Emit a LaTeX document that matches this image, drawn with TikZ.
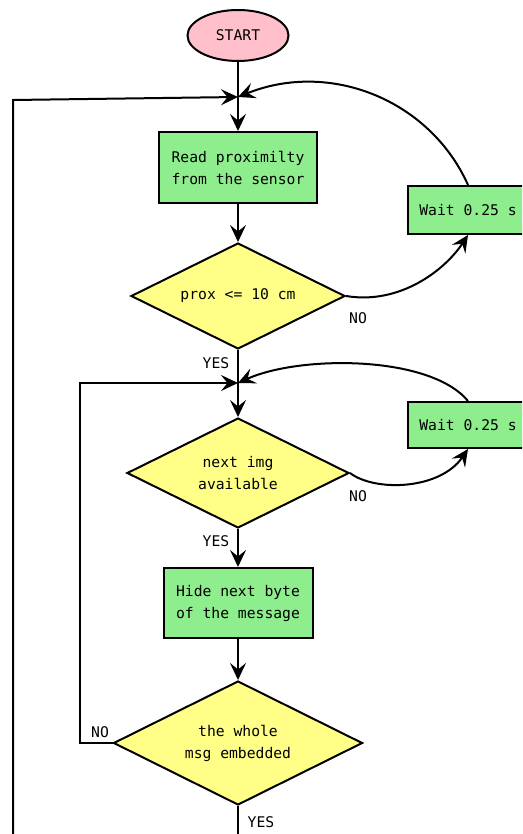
\documentclass[tikz,border=0pt]{standalone}
\usepackage{fontspec}
\newfontfamily\flowfont{DejaVu Sans Mono}
\usetikzlibrary{shapes.geometric,arrows.meta}
\definecolor{startpink}{HTML}{FFC0CB}
\definecolor{boxgreen}{HTML}{8EEE8E}
\definecolor{testyellow}{HTML}{FFFF88}
\tikzset{
  every node/.style={font=\flowfont\fontsize{14.7}{22}\selectfont},
  flowline/.style={line width=2pt},
  arr/.style={flowline, -{Stealth[length=17pt,width=16pt,inset=6.5pt]}},
  terminal/.style={ellipse, draw, line width=2pt, fill=startpink, inner sep=0pt, minimum width=101pt, minimum height=51pt},
  process/.style={rectangle, draw, line width=2pt, fill=boxgreen, inner sep=0pt, align=center},
  decision/.style={diamond, draw, line width=2pt, fill=testyellow, inner sep=0pt, aspect=2, align=center},
  lbl/.style={inner sep=0pt}
}
\begin{document}
\begin{tikzpicture}[x=1pt,y=-1pt]
\clip (0,0) rectangle (522,834);
\fill[white] (0,0) rectangle (522,834);

% main column
\node[terminal] (start) at (238,35.5) {START};
\coordinate (j1) at (238,97);
\node[process, minimum width=158pt, minimum height=71pt] (read) at (238,167.5) {Read proximilty\\from the sensor};
\node[decision, minimum width=214pt, minimum height=106pt] (d1) at (238,296) {prox <= 10 cm};
\coordinate (j2) at (238,383);
\node[decision, minimum width=222pt, minimum height=110pt] (d2) at (238,473) {next img\\available};
\node[process, minimum width=149pt, minimum height=70pt] (hide) at (238,603) {Hide next byte\\of the message};
\node[decision, minimum width=249pt, minimum height=124pt] (d3) at (238,743) {the whole\\msg embedded};
\coordinate (out) at (238,845);

% waiting boxes on the right
\node[process, minimum width=120pt, minimum height=48pt] (wait1) at (468,210) {Wait 0.25 s};
\node[process, minimum width=120pt, minimum height=46pt] (wait2) at (468,425) {Wait 0.25 s};

% loop-back corners
\coordinate (l1top) at (13,100);
\coordinate (l1bot) at (13,845);
\coordinate (l2top) at (80,383);
\coordinate (l2bot) at (80,743);

% straight flow
\draw[flowline] (start) -- (j1);
\draw[arr] (j1) -- (read);
\draw[arr] (read) -- (d1);
\draw[flowline] (d1) -- (j2);
\draw[arr] (j2) -- (d2);
\draw[arr] (d2) -- (hide);
\draw[arr] (hide) -- (d3);
\draw[flowline] (d3) -- (out);

% NO branches to the waits and back
\draw[arr] (d1.east) .. controls (400,305) and (445,270) .. (wait1.south);
\draw[arr] (wait1.north) .. controls (430,100) and (330,60) .. (j1);
\draw[arr] (d2.east) .. controls (375,492) and (440,490) .. (wait2.south);
\draw[arr] (wait2.north) .. controls (430,355) and (300,355) .. (j2);

% outer loops
\draw[arr] (d3.west) -- (l2bot) -- (l2top) -- (j2);
\draw[arr] (l1bot) -- (l1top) -- (j1);

% branch labels
\node[lbl] (yes1) at (216,363) {YES};
\node[lbl] (no1) at (358,318) {NO};
\node[lbl] (yes2) at (216,541) {YES};
\node[lbl] (no2) at (358,496) {NO};
\node[lbl] (no3) at (100,732) {NO};
\node[lbl] (yes3) at (261,822) {YES};
\end{tikzpicture}
\end{document}
